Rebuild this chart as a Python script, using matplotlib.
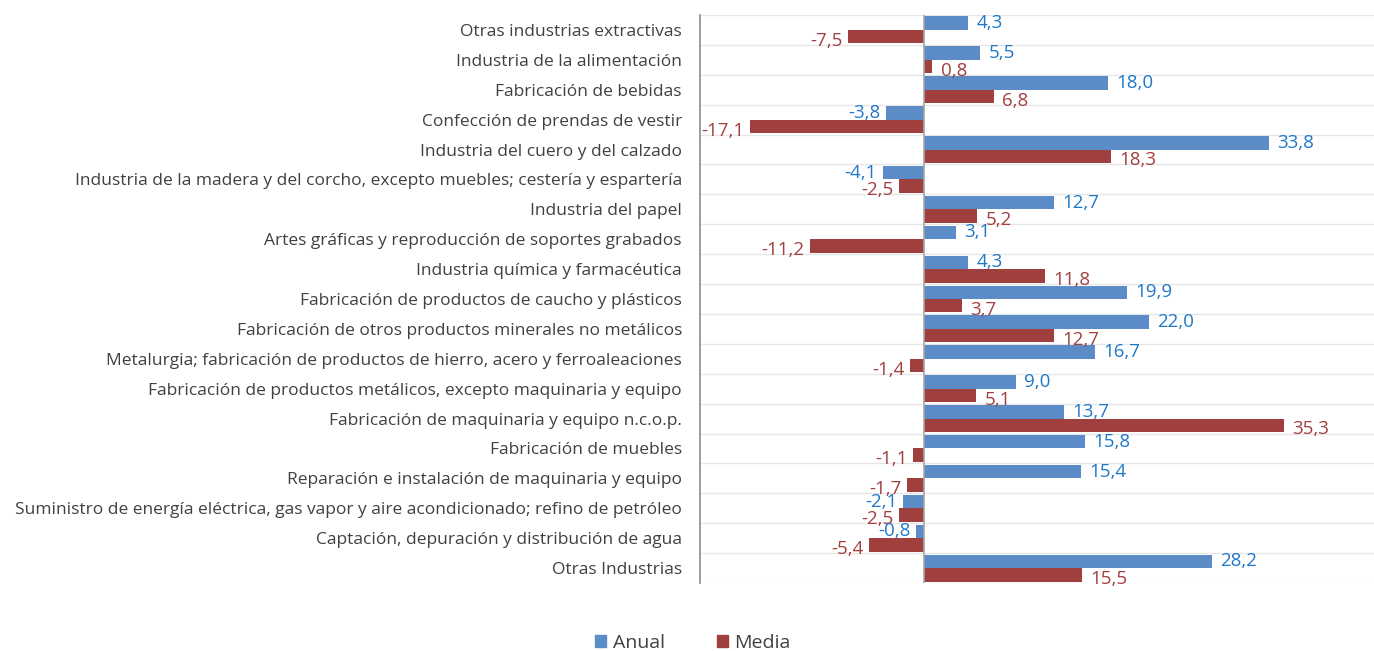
import numpy as np
import matplotlib.pyplot as plt
from matplotlib.patches import Patch

plt.rcParams['font.family'] = ['Open Sans', 'DejaVu Sans']

categories = [
    "Otras industrias extractivas",
    "Industria de la alimentación",
    "Fabricación de bebidas",
    "Confección de prendas de vestir",
    "Industria del cuero y del calzado",
    "Industria de la madera y del corcho, excepto muebles; cestería y espartería",
    "Industria del papel",
    "Artes gráficas y reproducción de soportes grabados",
    "Industria química y farmacéutica",
    "Fabricación de productos de caucho y plásticos",
    "Fabricación de otros productos minerales no metálicos",
    "Metalurgia; fabricación de productos de hierro, acero y ferroaleaciones",
    "Fabricación de productos metálicos, excepto maquinaria y equipo",
    "Fabricación de maquinaria y equipo n.c.o.p.",
    "Fabricación de muebles",
    "Reparación e instalación de maquinaria y equipo",
    "Suministro de energía eléctrica, gas vapor y aire acondicionado; refino de petróleo",
    "Captación, depuración y distribución de agua",
    "Otras Industrias",
]
anual = [4.3, 5.5, 18.0, -3.8, 33.8, -4.1, 12.7, 3.1, 4.3, 19.9,
         22.0, 16.7, 9.0, 13.7, 15.8, 15.4, -2.1, -0.8, 28.2]
media = [-7.5, 0.8, 6.8, -17.1, 18.3, -2.5, 5.2, -11.2, 11.8, 3.7,
         12.7, -1.4, 5.1, 35.3, -1.1, -1.7, -2.5, -5.4, 15.5]

BLUE = '#5B8CC8'
RED = '#A0403E'
BLUE_TXT = '#1F78C8'
RED_TXT = '#A0403E'

fig = plt.figure(figsize=(13.74, 6.51), dpi=100)
ax = fig.add_axes([700 / 1374, 1 - 583 / 651, 674 / 1374, 568 / 651])

n = len(categories)
y = np.arange(n)
h = 0.45
ax.barh(y - h / 2, anual, height=h, color=BLUE, zorder=3)
ax.barh(y + h / 2, media, height=h, color=RED, zorder=3)

# value labels (red ones sit a bit low, like the original)
for i in range(n):
    for val, off, col, dy in ((anual[i], -h / 2, BLUE_TXT, 0), (media[i], h / 2, RED_TXT, -3)):
        txt = f"{val:.1f}".replace('.', ',')
        ha = 'left' if val >= 0 else 'right'
        dx = 6 if val >= 0 else -4
        ax.annotate(txt, (val, i + off), xytext=(dx, dy), textcoords='offset points',
                    ha=ha, va='center', color=col, fontsize=13.5, zorder=4)

ax.set_ylim(n - 0.5, -0.5)
ax.set_xlim(-22, 44.1)

# horizontal gridlines between categories
for b in np.arange(-0.5, n, 1.0):
    ax.axhline(b, color='#E6E6E6', lw=1, zorder=1)
ax.axvline(0, color='#A6A6A6', lw=1.2, zorder=3.5)

ax.set_yticks(y)
ax.set_yticklabels(categories, fontsize=12.55, color='#404040')
ax.tick_params(axis='y', length=0, pad=13)
ax.set_xticks([])
for s in ['top', 'right', 'bottom']:
    ax.spines[s].set_visible(False)
ax.spines['left'].set_color('#8C8C8C')
ax.spines['left'].set_linewidth(1.2)

handles = [Patch(color=BLUE, label='Anual'), Patch(color=RED, label='Media')]
fig.legend(handles=handles, loc='center', bbox_to_anchor=(693 / 1374, 1 - 643 / 651),
           ncol=2, frameon=False, fontsize=14, handlelength=0.55, handleheight=0.55,
           handletextpad=0.35, columnspacing=2.7, labelcolor='#404040')

fig.savefig('out.png', dpi=100)
